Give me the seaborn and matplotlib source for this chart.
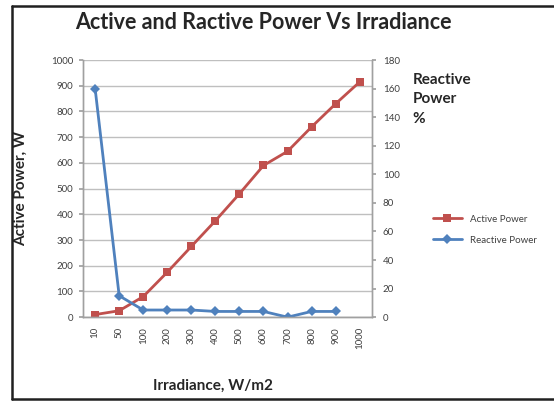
import numpy as np
import pandas as pd
import matplotlib
matplotlib.use("Agg")
import matplotlib.pyplot as plt
from matplotlib.lines import Line2D
import seaborn as sns

# data
irradiance = ["10", "50", "100", "200", "300", "400", "500", "600", "700", "800", "900", "1000"]
active_power = [10, 25, 80, 175, 275, 375, 480, 590, 645, 740, 830, 915]
reactive_power = [160, 15, 5, 5, 5, 4, 4, 4, 0, 4, 4, np.nan]

red = "#C0504D"
blue = "#4F81BD"

sns.set_theme(style="white")
plt.rcParams["font.family"] = ["Lato", "DejaVu Sans"]

df = pd.DataFrame({"irradiance": irradiance,
                   "active": active_power,
                   "reactive": reactive_power})

fig = plt.figure(figsize=(5.54, 4.03), dpi=100)
ax = fig.add_axes([0.150, 0.213, 0.521, 0.638])
ax2 = ax.twinx()

# active power on the left axis
sns.lineplot(data=df, x="irradiance", y="active", ax=ax, color=red,
             marker="s", markersize=6, markeredgewidth=0, linewidth=2,
             sort=False, label="Active Power", legend=False)

# reactive power on the right axis
sns.lineplot(data=df, x="irradiance", y="reactive", ax=ax2, color=blue,
             marker="D", markersize=5, markeredgewidth=0, linewidth=2,
             sort=False, label="Reactive Power", legend=False)

ax.set_xlim(-0.5, len(irradiance) - 0.5)
ax.set_ylim(0, 1000)
ax.set_yticks(range(0, 1001, 100))
ax2.set_ylim(0, 180)
ax2.set_yticks(range(0, 181, 20))

ax.yaxis.grid(True, color="#BFBFBF", linewidth=1)
ax.set_axisbelow(True)

for a in (ax, ax2):
    a.spines["top"].set_visible(False)
    for side in ("left", "bottom", "right"):
        a.spines[side].set_color("#A0A0A0")
        a.spines[side].set_linewidth(1)

ax.tick_params(axis="y", labelsize=7, colors="#404040", length=3, color="#A0A0A0", pad=4)
ax.tick_params(axis="x", labelsize=7, colors="#404040", length=0, pad=7, labelrotation=90)
ax2.tick_params(axis="y", labelsize=7, colors="#404040", length=3, color="#A0A0A0", pad=5)

ax.set_xlabel("Irradiance, W/m2", fontsize=11, fontweight="bold")
ax.set_ylabel("Active Power, W", fontsize=11, fontweight="bold")
ax2.set_ylabel("")
ax.xaxis.set_label_coords(0.45, -0.24)
ax.yaxis.set_label_coords(-0.19, 0.5)

fig.text(0.745, 0.82, "Reactive\nPower\n%", fontsize=11, fontweight="bold",
         ha="left", va="top", linespacing=1.5)

fig.suptitle("Active and Ractive Power Vs Irradiance", x=0.475, y=0.97,
             fontsize=15.5, fontweight="bold")

# combined legend to the right of the plot
h1, l1 = ax.get_legend_handles_labels()
h2, l2 = ax2.get_legend_handles_labels()
fig.legend(h1 + h2, l1 + l2, loc="center left", bbox_to_anchor=(0.765, 0.43),
           frameon=False, fontsize=7, handlelength=3, labelspacing=1.2,
           labelcolor="#404040")

# outer chart frame: left, top and bottom only (right edge is cut off)
frame = dict(transform=fig.transFigure, color="#202020", linewidth=1.8)
fig.add_artist(Line2D([0.022, 0.022], [0.01, 0.985], **frame))
fig.add_artist(Line2D([0.022, 1.0], [0.985, 0.985], **frame))
fig.add_artist(Line2D([0.022, 1.0], [0.01, 0.01], **frame))

plt.savefig("out.png", dpi=100)
